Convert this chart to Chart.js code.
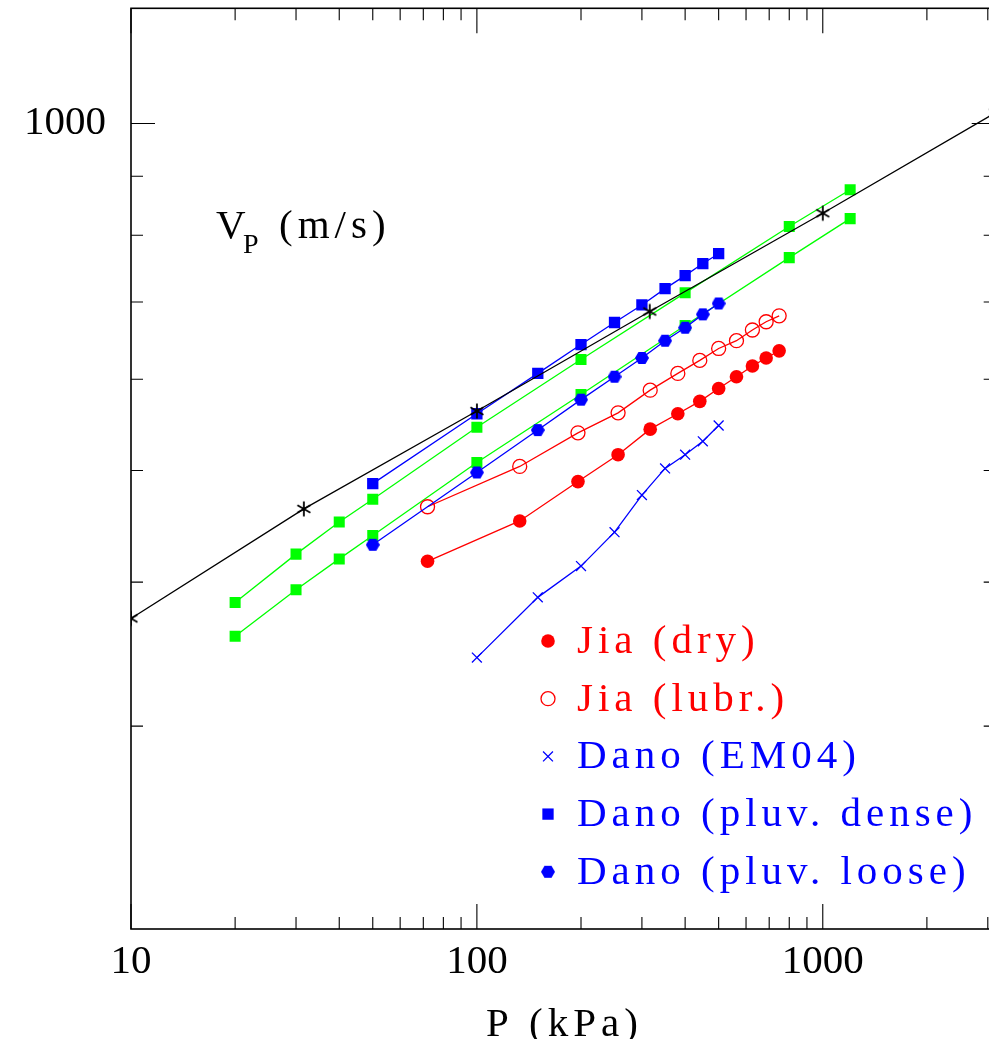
<!DOCTYPE html>
<html>
<head>
<meta charset="utf-8">
<script src="https://cdn.jsdelivr.net/npm/chart.js@4.4.1/dist/chart.umd.min.js"></script>
<style>
  html, body { margin: 0; padding: 0; background: #fff; overflow: hidden; }
</style>
</head>
<body>
<canvas id="vpChart" width="1004" height="1039"></canvas>
<script>
// reference power law line (asterisks)
const refP = [10, 31.6, 100, 316, 1000, 3162];
const refV = [372, 463, 563, 687, 836, 1022];

// green squares, two runs
const greenP = [20, 30, 40, 50, 100, 200, 400, 800, 1200];
const greenUpperV = [384, 423, 451, 472, 545, 624, 713, 814, 876];
const greenLowerV = [359, 394, 419, 439, 508, 582, 668, 765, 827];

// Dano pluviated samples
const danoP = [50, 100, 150, 200, 250, 300, 350, 400, 450, 500];
const denseV = [487, 560, 607, 643, 672, 696, 719, 738, 756, 771];
const looseV = [431, 498, 542, 576, 603, 626, 648, 665, 683, 698];

// Jia
const jiaP = [72, 133, 196, 256, 317, 381, 441, 500, 563, 626, 686, 748];
const jiaDryV = [417, 452, 489, 516, 543, 560, 574, 589, 603, 616, 626, 635];
const jiaLubrV = [465, 504, 539, 561, 587, 607, 623, 638, 648, 662, 673, 681];

// Dano EM04
const em04P = [100, 150, 200, 250, 300, 350, 400, 450, 500];
const em04V = [344, 388, 413, 442, 476, 502, 516, 530, 547];

// axes
const xRange = [10, 3162];
const yRange = [200, 1259];
const xMajor = [10, 100, 1000];
const xMinor = [20, 30, 40, 50, 60, 70, 80, 90, 200, 300, 400, 500, 600, 700, 800, 900, 2000, 3000];
const yMajor = [1000];
const yMinor = [300, 400, 500, 600, 700, 800, 900];

const legendNames = ["Jia (dry)", "Jia (lubr.)", "Dano (EM04)", "Dano (pluv. dense)", "Dano (pluv. loose)"];

const RED = "#ff0000", BLUE = "#0000ff", GREEN = "#00ff00";
const FONT = "'Liberation Serif', 'Times New Roman', serif";

function pts(xs, ys) {
  return xs.map((x, i) => ({ x: x, y: ys[i] }));
}

// hexagon marker
function makeHex(size, color) {
  const c = document.createElement("canvas");
  c.width = size; c.height = size;
  const g = c.getContext("2d");
  const r = size / 2;
  g.fillStyle = color;
  g.beginPath();
  for (let k = 0; k < 6; k++) {
    const a = Math.PI / 3 * k;
    const px = r + r * Math.cos(a), py = r + r * Math.sin(a) * 0.98;
    if (k === 0) g.moveTo(px, py); else g.lineTo(px, py);
  }
  g.closePath();
  g.fill();
  return c;
}

// 6-armed asterisk marker
function makeAsterisk(size) {
  const c = document.createElement("canvas");
  c.width = size; c.height = size;
  const g = c.getContext("2d");
  const r = size / 2;
  g.strokeStyle = "#000";
  g.lineWidth = 1.8;
  g.beginPath();
  [90, 30, 150].forEach(deg => {
    const a = deg * Math.PI / 180;
    g.moveTo(r - (r - 1.5) * Math.cos(a), r - (r - 1.5) * Math.sin(a));
    g.lineTo(r + (r - 1.5) * Math.cos(a), r + (r - 1.5) * Math.sin(a));
  });
  g.stroke();
  return c;
}

const hexBlue = makeHex(14, BLUE);
const asterisk = makeAsterisk(18);

const datasets = [
  { label: "ref", data: pts(refP, refV), borderColor: "#000", pointStyle: asterisk, order: 0 },
  { label: legendNames[4], data: pts(danoP, looseV), borderColor: BLUE, backgroundColor: BLUE, pointStyle: hexBlue, order: 1 },
  { label: legendNames[3], data: pts(danoP, denseV), borderColor: BLUE, backgroundColor: BLUE, pointStyle: "rect", pointRadius: 8, order: 2 },
  { label: legendNames[2], data: pts(em04P, em04V), borderColor: BLUE, backgroundColor: BLUE, pointStyle: "crossRot", pointRadius: 7, pointBorderWidth: 1.3, order: 3 },
  { label: legendNames[0], data: pts(jiaP, jiaDryV), borderColor: RED, backgroundColor: RED, pointStyle: "circle", pointRadius: 6.8, pointBorderWidth: 0, order: 4 },
  { label: legendNames[1], data: pts(jiaP, jiaLubrV), borderColor: RED, backgroundColor: "rgba(0,0,0,0)", pointStyle: "circle", pointRadius: 7, pointBorderWidth: 1.3, order: 5 },
  { label: "green upper", data: pts(greenP, greenUpperV), borderColor: GREEN, backgroundColor: GREEN, pointStyle: "rect", pointRadius: 7.8, order: 6 },
  { label: "green lower", data: pts(greenP, greenLowerV), borderColor: GREEN, backgroundColor: GREEN, pointStyle: "rect", pointRadius: 7.8, order: 7 }
];
datasets.forEach(d => {
  d.showLine = true;
  d.borderWidth = 1.3;
  d.tension = 0;
  d.clip = 0;
  if (d.pointRadius === undefined) d.pointRadius = 7;
  if (d.pointBorderWidth === undefined) d.pointBorderWidth = 0;
  d.pointBorderColor = d.borderColor;
  d.pointBackgroundColor = d.backgroundColor || d.borderColor;
});

// legend rows, in the same order as the picture
const legendRows = [
  { ds: 4, color: RED },
  { ds: 5, color: RED },
  { ds: 3, color: BLUE },
  { ds: 2, color: BLUE },
  { ds: 1, color: BLUE }
];

const framePlugin = {
  id: "frame",
  afterDatasetsDraw(chart) {
    const { ctx, chartArea: a, scales: { x, y } } = chart;
    ctx.save();
    ctx.strokeStyle = "#000";
    ctx.lineWidth = 1.6;
    ctx.strokeRect(a.left, a.top, a.right - a.left, a.bottom - a.top);

    ctx.lineWidth = 1.1;
    ctx.beginPath();
    const vtick = (v, len) => {
      const px = x.getPixelForValue(v);
      ctx.moveTo(px, a.bottom); ctx.lineTo(px, a.bottom - len);
      ctx.moveTo(px, a.top); ctx.lineTo(px, a.top + len);
    };
    const htick = (v, len) => {
      const py = y.getPixelForValue(v);
      ctx.moveTo(a.left, py); ctx.lineTo(a.left + len, py);
      ctx.moveTo(a.right, py); ctx.lineTo(a.right - len, py);
    };
    xMinor.forEach(v => vtick(v, 12));
    xMajor.forEach(v => vtick(v, 25));
    yMinor.forEach(v => htick(v, 12));
    yMajor.forEach(v => htick(v, 24));
    ctx.stroke();

    ctx.letterSpacing = "5px";
    ctx.textBaseline = "alphabetic";

    // y label
    ctx.fillStyle = "#000";
    ctx.textAlign = "left";
    ctx.font = "41px " + FONT;
    ctx.fillText("V", 216, 238);
    ctx.font = "28px " + FONT;
    ctx.fillText("P", 243, 253);
    ctx.font = "41px " + FONT;
    ctx.fillText("(m/s)", 279, 238);

    // x label
    ctx.textAlign = "center";
    ctx.fillText("P (kPa)", (a.left + a.right) / 2 + 1, 1036);

    // legend
    ctx.textAlign = "left";
    legendRows.forEach((row, i) => {
      const ds = chart.data.datasets[row.ds];
      const cy = 641 + i * 57.7;
      ctx.fillStyle = ds.pointBackgroundColor;
      ctx.strokeStyle = ds.pointBorderColor;
      ctx.lineWidth = ds.pointBorderWidth;
      Chart.helpers.drawPoint(ctx, {
        pointStyle: ds.pointStyle,
        radius: ds.pointRadius,
        rotation: 0,
        borderWidth: ds.pointBorderWidth
      }, 548, cy);
      ctx.fillStyle = row.color;
      ctx.font = "41px " + FONT;
      ctx.fillText(ds.label, 577, cy + 12);
    });
    ctx.restore();
  }
};

new Chart(document.getElementById("vpChart"), {
  type: "scatter",
  data: { datasets: datasets },
  options: {
    responsive: false,
    devicePixelRatio: 1,
    animation: false,
    layout: { padding: { top: 8, right: 2, left: 0, bottom: 0 } },
    plugins: { legend: { display: false }, tooltip: { enabled: false } },
    scales: {
      x: {
        type: "logarithmic",
        min: xRange[0],
        max: xRange[1],
        grid: { display: false, drawTicks: false },
        border: { display: false },
        afterBuildTicks: s => { s.ticks = xMajor.map(v => ({ value: v })); },
        afterFit: s => { s.height = 110; s.paddingLeft = 0; s.paddingRight = 0; },
        ticks: {
          autoSkip: false,
          maxRotation: 0,
          padding: 9,
          color: "#000",
          font: { family: FONT, size: 41 },
          callback: v => String(v)
        }
      },
      y: {
        type: "logarithmic",
        min: yRange[0],
        max: yRange[1],
        grid: { display: false, drawTicks: false },
        border: { display: false },
        afterBuildTicks: s => { s.ticks = yMajor.map(v => ({ value: v })); },
        afterFit: s => { s.width = 131; s.paddingTop = 0; s.paddingBottom = 0; },
        ticks: {
          autoSkip: false,
          padding: 25,
          color: "#000",
          font: { family: FONT, size: 41 },
          callback: v => String(v)
        }
      }
    }
  },
  plugins: [framePlugin]
});
</script>
</body>
</html>
